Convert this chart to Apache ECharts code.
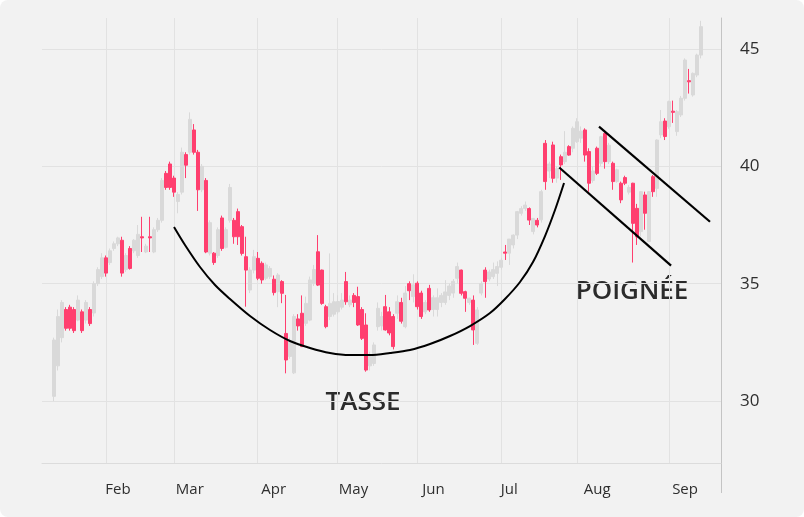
<!DOCTYPE html>
<html><head><meta charset="utf-8">
<script src="https://cdn.jsdelivr.net/npm/echarts@6/dist/echarts.min.js"></script>
<style>html,body{margin:0;padding:0;background:#fff;}#c{width:804px;height:517px;border-radius:8px;overflow:hidden;}</style>
</head><body><div id="c"></div>
<script>
// [open, close, low, high] per trading day
const candles = [
[30.2,32.6,30.0,32.7],[31.5,33.6,31.3,33.9],[32.7,34.2,32.5,34.3],[33.9,33.1,33.0,34.0],[34.0,33.1,33.0,34.1],
[33.9,33.0,32.9,34.0],[33.45,34.3,33.4,34.5],[33.8,33.0,32.9,33.9],[33.45,34.2,33.3,34.3],[33.9,33.3,33.2,34.0],
[33.75,35.0,33.6,35.1],[35.0,35.6,34.9,35.7],[35.3,36.1,35.2,36.3],[36.1,35.45,35.3,36.2],[35.9,36.4,35.8,36.5],
[36.5,36.7,36.4,36.8],[36.7,36.95,36.6,37.0],[36.85,35.45,35.3,37.0],[35.6,36.2,35.5,36.3],[36.5,35.65,35.6,36.6],
[36.4,36.85,36.3,36.9],[36.2,37.1,36.1,37.5],[37.0,36.95,36.35,37.85],[36.35,36.6,36.3,36.7],[37.0,36.95,36.35,37.85],
[36.35,37.3,36.3,37.4],[37.3,37.7,37.2,37.8],[37.7,39.4,37.6,39.5],[39.7,39.1,39.0,39.8],[40.1,39.1,39.0,40.2],
[39.5,38.9,38.7,39.6],[38.5,38.8,38.0,38.9],[38.9,40.6,38.8,40.8],[40.5,40.05,39.5,40.6],[40.6,42.0,40.5,42.3],
[41.55,40.6,40.5,41.8],[40.6,39.0,38.1,40.7],[39.0,40.0,38.9,40.1],[39.4,36.35,36.3,39.5],[36.3,37.6,36.2,37.7],
[36.3,35.9,35.8,36.35],[36.2,37.3,36.1,37.4],[37.8,36.5,36.4,37.9],[36.55,37.3,36.5,37.4],[37.7,39.1,37.6,39.25],
[37.7,37.0,36.7,37.8],[38.07,37.0,36.65,38.2],[37.43,36.29,36.2,37.5],[36.15,35.58,34.02,37.0],[34.73,35.58,34.6,35.7],
[35.58,36.15,35.44,36.44],[36.08,35.23,35.15,36.35],[35.87,35.16,35.0,35.95],[35.23,35.8,35.15,35.9],[35.3,35.65,35.2,35.75],
[35.19,34.62,34.5,35.35],[34.66,35.37,34.0,35.45],[35.09,34.59,34.17,35.15],[32.88,31.75,31.18,34.52],[31.9,32.5,31.8,32.7],
[31.2,33.6,31.15,33.7],[33.5,33.2,33.0,33.7],[33.74,32.32,32.3,34.5],[33.31,34.16,33.2,34.45],[33.45,35.16,33.4,35.3],
[35.0,35.6,34.9,35.8],[36.36,34.94,34.9,37.07],[35.58,34.16,34.1,35.6],[34.02,33.17,33.1,34.1],[33.6,34.16,33.45,36.29],
[33.7,34.23,33.6,34.6],[33.8,34.24,33.7,34.5],[34.0,34.3,33.9,34.6],[35.09,34.23,34.1,35.5],[34.1,34.3,34.0,34.5],
[34.5,34.2,34.0,34.6],[34.45,33.24,33.2,34.87],[33.9,32.67,32.6,34.0],[33.24,31.32,31.25,33.74],[31.5,31.9,31.3,32.1],
[31.6,32.39,31.5,32.5],[33.17,33.95,33.0,34.2],[33.2,33.6,33.0,33.8],[34.02,33.03,33.0,34.52],[33.8,32.9,32.8,34.0],
[33.6,32.32,32.2,33.7],[33.74,34.23,33.5,34.5],[34.2,33.4,33.3,34.4],[33.17,34.6,33.1,34.9],[35.0,34.7,34.3,35.1],
[34.45,34.95,34.2,35.4],[35.02,34.02,33.9,35.1],[34.6,33.6,33.5,34.7],[33.8,34.2,33.7,34.3],[34.8,33.88,33.8,34.95],
[33.9,34.4,33.6,34.5],[33.9,34.4,33.6,34.8],[34.2,34.5,34.0,34.6],[34.2,34.65,34.1,35.15],[34.5,34.9,34.3,35.0],
[34.6,35.1,34.4,35.2],[35.23,35.73,35.0,35.9],[35.58,34.59,34.5,35.6],[34.66,34.38,33.8,34.7],[34.2,34.38,34.1,34.4],
[34.3,33.03,32.39,34.5],[32.46,33.88,32.39,34.0],[34.6,35.0,34.5,35.1],[35.58,35.09,34.4,35.7],[35.2,35.5,35.1,35.6],
[35.3,35.6,35.2,35.9],[35.44,35.73,34.9,35.95],[35.7,36.0,35.6,36.1],[36.35,36.3,36.01,36.65],[36.3,36.9,35.8,36.9],
[36.65,37.07,36.5,37.1],[37.07,38.07,36.9,38.1],[38.0,38.2,37.9,38.3],[38.2,38.35,38.1,38.5],[38.2,37.71,37.5,38.25],
[37.22,37.78,37.1,37.8],[37.7,37.5,37.4,37.8],[37.72,38.92,37.6,39.0],[40.98,39.35,39.0,41.12],[39.8,40.1,39.5,40.2],
[40.91,39.49,39.3,41.05],[39.5,39.9,39.3,40.0],[40.41,40.06,39.42,40.5],[40.2,40.6,40.1,41.5],[40.84,40.48,40.45,40.9],
[40.77,41.62,40.6,41.7],[41.05,41.9,41.0,42.05],[41.2,41.5,41.0,41.7],[41.55,40.48,40.2,41.62],[40.63,39.28,38.92,40.77],
[39.4,39.8,39.3,40.0],[40.77,39.7,39.63,40.84],[40.13,41.26,40.0,41.3],[41.4,40.2,39.9,41.45],[40.2,40.9,40.1,41.0],
[40.13,39.35,39.0,40.2],[39.35,39.85,39.3,39.9],[39.28,38.57,38.43,39.35],[39.52,39.28,39.2,39.6],[38.9,39.1,38.8,39.2],
[39.28,37.57,35.9,39.3],[38.21,37.0,36.65,38.4],[37.22,38.92,37.0,38.95],[38.78,38.0,37.3,38.92],[36.8,38.92,36.8,38.95],
[39.56,38.92,38.7,39.63],[39.06,41.12,38.7,41.15],[41.34,41.9,41.2,42.4],[41.93,41.27,41.12,42.05],[41.69,42.76,41.6,42.8],
[42.35,42.3,41.85,42.8],[41.48,42.33,41.3,42.4],[42.19,42.9,42.1,43.0],[42.9,44.53,42.8,44.6],[43.65,43.6,43.1,44.15],
[43.04,43.96,42.97,44.0],[43.89,44.74,43.8,44.8],[44.74,45.95,44.6,46.2]
];
const leadPad = 3, tailPad = 5;
const monthLabels = ['Feb','Mar','Apr','May','Jun','Jul','Aug','Sep'];
const labelIdx = [19, 37, 58, 78, 98, 117, 139, 161];
const gridIdx = [16, 33, 54, 74, 94, 115, 134, 157];
const yTicks = [30, 35, 40, 45];
// annotation paths: [day position, price]
const cupPath = [[33.05,37.415],[35.80,36.648],[39.56,35.710],[43.32,34.943],[47.07,34.347],[52.08,33.622],
  [57.09,33.026],[62.09,32.557],[67.10,32.259],[72.11,32.046],[77.12,31.960],[82.12,31.960],[87.13,32.046],
  [92.14,32.174],[97.15,32.429],[102.15,32.770],[107.16,33.196],[112.17,33.750],[115.92,34.347],[119.68,35.071],
  [122.93,35.923],[125.94,37.031],[128.44,38.139],[130.70,39.290]];
const handleLower = [[129.5,39.95],[157.5,35.77]];
const handleUpper = [[139.46,41.69],[167.25,37.64]];

const total = leadPad + candles.length + tailPad;
const cats = Array.from({length: total}, (_, i) => String(i));
const seriesData = cats.map((_, j) => {
  const k = j - leadPad;
  return (k >= 0 && k < candles.length) ? candles[k] : '-';
});
const UP = '#d9d9d9', DOWN = '#ff3f6f';
const FONT = 'Open Sans';

const chart = echarts.init(document.getElementById('c'), null, {renderer: 'canvas'});
chart.setOption({
  backgroundColor: '#f2f2f2',
  animation: false,
  grid: {left: 42, right: 83, top: 18, bottom: 54},
  xAxis: [{
    type: 'category', data: cats, boundaryGap: false,
    axisLine: {show: true, onZero: false, lineStyle: {color: '#dcdcdc', width: 1}},
    axisTick: {show: false},
    axisLabel: {
      interval: (i) => labelIdx.includes(i),
      formatter: (v, i) => { const k = labelIdx.indexOf(i); return k >= 0 ? monthLabels[k] : ''; },
      color: '#2e2e2e', fontSize: 15, margin: 19, fontFamily: FONT, fontWeight: 500
    },
    splitLine: {show: true, interval: (i) => gridIdx.includes(i), lineStyle: {color: '#e2e2e2', width: 1}}
  }, {
    type: 'value', min: 0, max: total - 1, show: false,
    axisLine: {show: false, onZero: false}
  }],
  yAxis: {
    type: 'value', position: 'right', min: 27.36, max: 46.32, splitNumber: 4,
    axisLine: {show: true, onZero: false, lineStyle: {color: '#c4c4c4'}},
    axisTick: {show: false},
    axisLabel: {
      showMinLabel: false, showMaxLabel: false, margin: 19,
      color: '#2e2e2e', fontSize: 17, fontFamily: FONT, fontWeight: 500,
      formatter: (v) => yTicks.includes(v) ? String(v) : ''
    },
    splitLine: {show: true, showMinLine: false, showMaxLine: false, lineStyle: {color: '#e2e2e2'}}
  },
  series: [{
    type: 'candlestick', data: seriesData, barWidth: 3.5,
    itemStyle: {color: UP, color0: DOWN, borderColor: UP, borderColor0: DOWN, borderWidth: 1}
  }, {
    type: 'line', xAxisIndex: 1, data: cupPath, smooth: 0.3, symbol: 'none', z: 5,
    lineStyle: {color: '#000', width: 2}
  }, {
    type: 'line', xAxisIndex: 1, data: handleLower, symbol: 'none', z: 5,
    lineStyle: {color: '#000', width: 2.2}
  }, {
    type: 'line', xAxisIndex: 1, data: handleUpper, symbol: 'none', z: 5,
    lineStyle: {color: '#000', width: 2.2}
  }],
  graphic: [
    {type: 'line', shape: {x1: 721.5, y1: 463, x2: 721.5, y2: 493}, style: {stroke: '#c4c4c4', lineWidth: 1}},
    {type: 'text', x: 363, y: 403, style: {text: 'TASSE', fill: '#2b2b2b', font: '600 26px "Open Sans"',
      align: 'center', verticalAlign: 'middle', textAlign: 'center', textVerticalAlign: 'middle'}},
    {type: 'text', x: 632, y: 292, style: {text: 'POIGNÉE', fill: '#2b2b2b', font: '600 26px "Open Sans"',
      align: 'center', verticalAlign: 'middle', textAlign: 'center', textVerticalAlign: 'middle'}}
  ]
});
</script></body></html>
